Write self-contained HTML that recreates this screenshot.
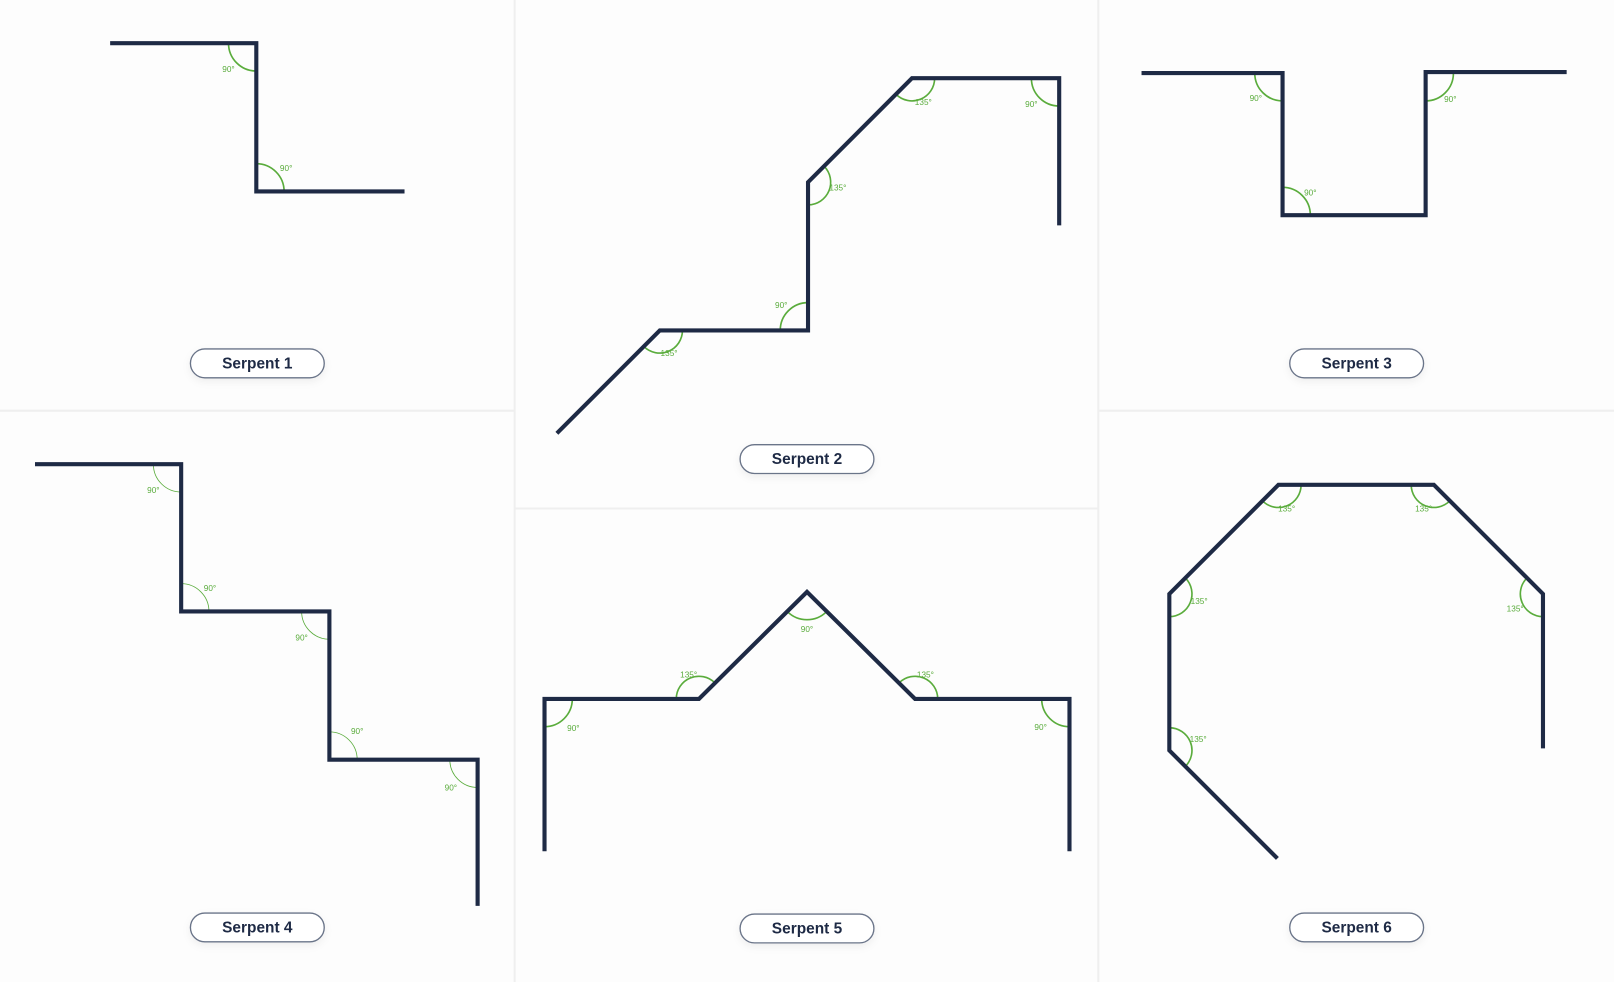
<!DOCTYPE html>
<html><head><meta charset="utf-8"><style>
html,body{margin:0;padding:0;background:#fff;}
svg{display:block}
text{font-family:"Liberation Sans",sans-serif}
</style></head><body>
<svg id="s" width="1614" height="982" viewBox="0 0 1568 954" preserveAspectRatio="none" xmlns="http://www.w3.org/2000/svg">
<defs><filter id="sh" x="-20%" y="-50%" width="140%" height="220%"><feDropShadow dx="0" dy="3" stdDeviation="4" flood-color="#000" flood-opacity="0.06"/></filter></defs>
<rect width="1568" height="954" fill="#fdfdfd"/>
<g stroke="#efefef" stroke-width="2">
<line x1="500" y1="0" x2="500" y2="954"/><line x1="1067" y1="0" x2="1067" y2="954"/>
<line x1="0" y1="399" x2="500" y2="399"/><line x1="1067" y1="399" x2="1568" y2="399"/>
<line x1="500" y1="494" x2="1067" y2="494"/>
</g>
<g id="arcs" fill="none" stroke="#5aac3c"></g>
<g fill="none" stroke="#1e2a45" stroke-width="4">
<polyline points="107,42 249,42 249,186 393,186"/>
<polyline points="541,421 641,321 785,321 785,177 886,76 1029,76 1029,219"/>
<polyline points="1109,71 1246,71 1246,209 1385,209 1385,70 1522,70"/>
<polyline points="34,451 176,451 176,594 320,594 320,738 464,738 464,880"/>
<polyline points="529,827 529,679 679,679 784,575 889,679 1039,679 1039,827"/>
<polyline points="1241,834 1136,729 1136,577 1242,471 1393,471 1499,577 1499,727"/>
</g>
<g fill="#5aac3c" font-size="8" text-anchor="middle">
<text x="222" y="70">90°</text><text x="278" y="166">90°</text>
<text x="650" y="346">135°</text><text x="759" y="299">90°</text><text x="814" y="185">135°</text><text x="897" y="102">135°</text><text x="1002" y="104">90°</text>
<text x="1220" y="98">90°</text><text x="1273" y="190">90°</text><text x="1409" y="99">90°</text>
<text x="149" y="479">90°</text><text x="204" y="574">90°</text><text x="293" y="622">90°</text><text x="347" y="713">90°</text><text x="438" y="768">90°</text>
<text x="557" y="710">90°</text><text x="669" y="658">135°</text><text x="784" y="614">90°</text><text x="899" y="658">135°</text><text x="1011" y="709">90°</text>
<text x="1164" y="721">135°</text><text x="1165" y="587">135°</text><text x="1250" y="497">135°</text><text x="1383" y="497">135°</text><text x="1472" y="594">135°</text>
</g>
<g font-size="15" font-weight="bold" fill="#1e2a45" text-anchor="middle">
<g filter="url(#sh)"><rect x="185" y="339" width="130" height="28" rx="14" fill="#fff" stroke="#6b7489" stroke-width="1.3"/></g><text x="250" y="358">Serpent 1</text>
<g filter="url(#sh)"><rect x="719" y="432" width="130" height="28" rx="14" fill="#fff" stroke="#6b7489" stroke-width="1.3"/></g><text x="784" y="451">Serpent 2</text>
<g filter="url(#sh)"><rect x="1253" y="339" width="130" height="28" rx="14" fill="#fff" stroke="#6b7489" stroke-width="1.3"/></g><text x="1318" y="358">Serpent 3</text>
<g filter="url(#sh)"><rect x="185" y="887" width="130" height="28" rx="14" fill="#fff" stroke="#6b7489" stroke-width="1.3"/></g><text x="250" y="906">Serpent 4</text>
<g filter="url(#sh)"><rect x="719" y="888" width="130" height="28" rx="14" fill="#fff" stroke="#6b7489" stroke-width="1.3"/></g><text x="784" y="907">Serpent 5</text>
<g filter="url(#sh)"><rect x="1253" y="887" width="130" height="28" rx="14" fill="#fff" stroke="#6b7489" stroke-width="1.3"/></g><text x="1318" y="906">Serpent 6</text>
</g>
</svg>
<script>
var A=[
[249,42,-1,0,0,1,1.6],[249,186,0,-1,1,0,1.6],
[641,321,-1,1,1,0,1.6],[785,321,-1,0,0,-1,1.6],[785,177,0,1,1,-1,1.6],[886,76,-1,1,1,0,1.6],[1029,76,-1,0,0,1,1.6],
[1246,71,-1,0,0,1,1.6],[1246,209,0,-1,1,0,1.6],[1385,71,0,1,1,0,1.6],
[176,451,-1,0,0,1,0.8],[176,594,0,-1,1,0,0.8],[320,594,-1,0,0,1,0.8],[320,738,0,-1,1,0,0.8],[464,738,-1,0,0,1,0.8],
[529,679,0,1,1,0,1.6],[679,679,-1,0,1,-1,1.6],[784,575,-1,1,1,1,1.6],[889,679,-1,-1,1,0,1.6],[1039,679,-1,0,0,1,1.6],
[1136,729,0,-1,1,1,1.6],[1136,577,0,1,1,-1,1.6],[1242,471,-1,1,1,0,1.6],[1393,471,-1,0,1,1,1.6],[1499,577,-1,-1,0,1,1.6]];
var g=document.getElementById('arcs'),h='';
A.forEach(function(a){var x=a[0],y=a[1];function n(u,v){var l=Math.hypot(u,v);return[u/l,v/l]}
var p=n(a[2],a[3]),q=n(a[4],a[5]);var cr=p[0]*q[1]-p[1]*q[0];
var dot=p[0]*q[0]+p[1]*q[1];var r=dot<-0.3?22:27;
h+='<path stroke-width="'+a[6]+'" d="M'+(x+p[0]*r)+' '+(y+p[1]*r)+' A'+r+' '+r+' 0 0 '+(cr>0?1:0)+' '+(x+q[0]*r)+' '+(y+q[1]*r)+'"/>';});
g.innerHTML=h;
</script>
</body></html>
